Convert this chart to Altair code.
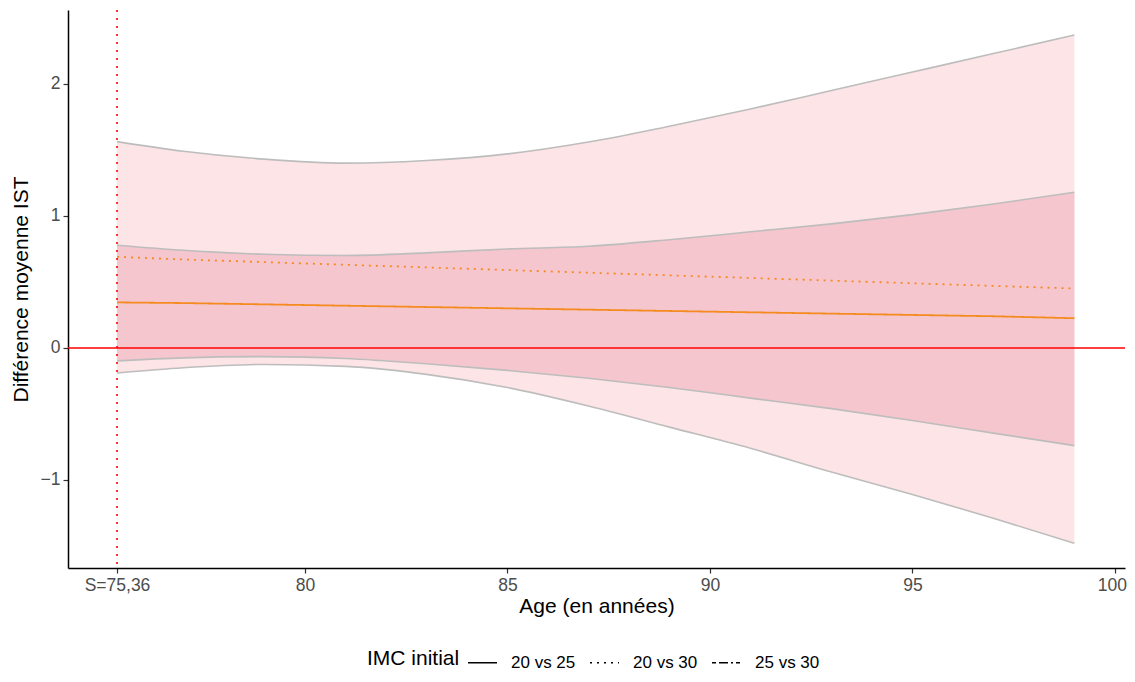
import altair as alt
import pandas as pd

ages = [75.36, 77, 79, 81, 83, 85, 87, 89, 91, 93, 95, 97, 99]

# estimated mean difference (lines)
diff_20_25 = [0.345, 0.34, 0.33, 0.32, 0.31, 0.30, 0.29, 0.28, 0.27, 0.26, 0.25, 0.24, 0.225]
diff_20_30 = [0.69, 0.67, 0.65, 0.63, 0.61, 0.59, 0.57, 0.55, 0.53, 0.51, 0.49, 0.47, 0.45]

# confidence bands
low_20_25 = [-0.098, -0.075, -0.066, -0.08, -0.12, -0.17, -0.23, -0.30, -0.38, -0.46, -0.55, -0.645, -0.74]
high_20_25 = [0.778, 0.74, 0.71, 0.70, 0.72, 0.75, 0.77, 0.82, 0.88, 0.94, 1.01, 1.09, 1.18]
low_20_30 = [-0.19, -0.15, -0.125, -0.14, -0.20, -0.30, -0.44, -0.60, -0.76, -0.94, -1.11, -1.29, -1.48]
high_20_30 = [1.563, 1.49, 1.43, 1.40, 1.42, 1.47, 1.56, 1.68, 1.81, 1.95, 2.09, 2.23, 2.37]

groups = ["20 vs 25", "20 vs 30", "25 vs 30"]
x_ticks = [75.36, 80, 85, 90, 95, 100]
y_ticks = [-1, 0, 1, 2]
s_age = 75.36

FONT = "Liberation Sans"
ORANGE = "#F58A1F"

band_df = pd.DataFrame(
    {
        "age": ages + ages,
        "low": low_20_30 + low_20_25,
        "high": high_20_30 + high_20_25,
        "band": ["20 vs 30"] * len(ages) + ["20 vs 25"] * len(ages),
    }
)

edge_rows = []
for name, vals in [
    ("low_20_30", low_20_30),
    ("high_20_30", high_20_30),
    ("low_20_25", low_20_25),
    ("high_20_25", high_20_25),
]:
    for a, v in zip(ages, vals):
        edge_rows.append({"age": a, "value": v, "edge": name})
edge_df = pd.DataFrame(edge_rows)

line_df = pd.DataFrame(
    {
        "age": ages + ages,
        "diff": diff_20_25 + diff_20_30,
        "IMC": ["20 vs 25"] * len(ages) + ["20 vs 30"] * len(ages),
    }
)

x_scale = alt.Scale(domain=[74.15, 100.25], nice=False, zero=False)
y_scale = alt.Scale(domain=[-1.667, 2.56], nice=False, zero=False)

x_axis = alt.Axis(
    values=x_ticks,
    labelExpr="datum.value < 76 ? 'S=75,36' : format(datum.value, 'd')",
    # nudge the last label so it stays inside the page
    labelOffset={"condition": {"test": "datum.value == 100", "value": -3}, "value": 0},
    title="Age (en années)",
    grid=False,
    labelFlush=False,
    labelOverlap=False,
    titlePadding=2,
)
y_axis = alt.Axis(
    values=y_ticks,
    format="d",
    title="Différence moyenne IST",
    grid=False,
    titlePadding=9,
)

outer = (
    alt.Chart(band_df)
    .transform_filter(alt.datum.band == "20 vs 30")
    .mark_area(color="#FDE4E6", interpolate="monotone")
    .encode(
        x=alt.X("age:Q", scale=x_scale, axis=x_axis),
        y=alt.Y("low:Q", scale=y_scale, axis=y_axis),
        y2="high:Q",
    )
)

inner = (
    alt.Chart(band_df)
    .transform_filter(alt.datum.band == "20 vs 25")
    .mark_area(color="#F5C6CE", interpolate="monotone")
    .encode(x="age:Q", y="low:Q", y2="high:Q")
)

edges = (
    alt.Chart(edge_df)
    .mark_line(color="#BDBDBD", strokeWidth=1.6, interpolate="monotone")
    .encode(x="age:Q", y="value:Q", detail="edge:N")
)

zero_line = (
    alt.Chart(pd.DataFrame({"y": [0]}))
    .mark_rule(color="#FF0000", strokeWidth=1.6)
    .encode(y="y:Q")
)

s_line = (
    alt.Chart(pd.DataFrame({"x": [s_age]}))
    .mark_rule(color="#FF0000", strokeWidth=1.6, strokeDash=[2, 6])
    .encode(x="x:Q")
)

diff_lines = (
    alt.Chart(line_df)
    .mark_line(color=ORANGE, strokeWidth=1.8)
    .encode(
        x="age:Q",
        y="diff:Q",
        strokeDash=alt.StrokeDash(
            "IMC:N",
            scale=alt.Scale(domain=groups, range=[[1, 0], [2, 5], [4, 3, 9, 3, 2, 3]]),
            legend=alt.Legend(
                title="IMC initial",
                orient="none",
                legendX=299,
                legendY=637,
                direction="horizontal",
                titleOrient="left",
                titleAnchor="middle",
                titleBaseline="middle",
                titleFontSize=21,
                titleFontWeight="normal",
                titleColor="black",
                titleFont=FONT,
                titlePadding=7,
                labelFontSize=17,
                labelColor="black",
                labelFont=FONT,
                symbolType="stroke",
                symbolStrokeColor="black",
                symbolStrokeWidth=1.6,
                symbolSize=840,
                columnPadding=10,
                labelOffset=13,
            ),
        ),
    )
)

chart = (
    alt.layer(outer, inner, edges, zero_line, s_line, diff_lines)
    .properties(
        width=1057,
        height=558,
        autosize=alt.AutoSizeParams(type="none"),
        padding={"left": 60, "top": 2, "right": 2, "bottom": 104},
        background="white",
    )
    .configure_view(stroke=None)
    .configure_axis(
        domainColor="black",
        domainWidth=1.5,
        tickColor="#333333",
        tickSize=5,
        tickWidth=1.2,
        labelColor="#4D4D4D",
        labelFontSize=17.5,
        labelFont=FONT,
        titleColor="black",
        titleFontSize=21,
        titleFontWeight="normal",
        titleFont=FONT,
        labelPadding=3,
    )
)

chart.save("out.html", embed_options={"renderer": "svg", "actions": False})
